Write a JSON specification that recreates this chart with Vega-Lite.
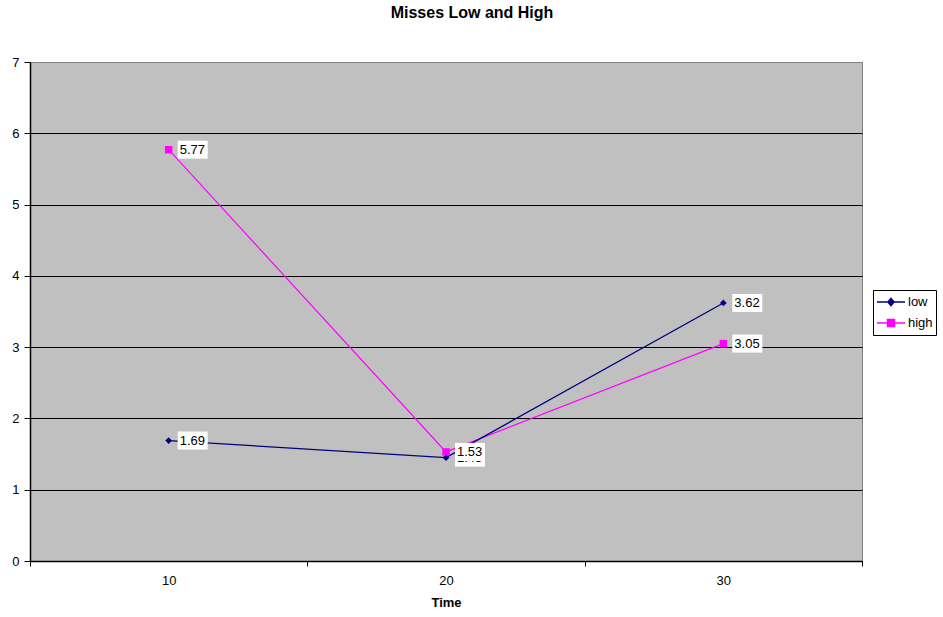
{
  "$schema": "https://vega.github.io/schema/vega-lite/v6.json",
  "width": 832,
  "height": 499,
  "autosize": {"type": "none"},
  "padding": {"left": 30, "top": 62, "right": 81, "bottom": 56},
  "background": "white",
  "title": {"text": "Misses Low and High", "font": "Liberation Sans", "fontSize": 16, "fontWeight": "bold", "anchor": "middle", "dx": 26, "offset": 35, "color": "black"},
  "config": {
    "view": {"fill": "#C0C0C0", "stroke": "#808080", "strokeWidth": 1},
    "axis": {"labelFont": "Liberation Sans", "labelFontSize": 13, "labelColor": "black", "domainColor": "black", "tickColor": "black", "titleFont": "Liberation Sans", "titleColor": "black"}
  },
  "data": {"values": [
    {"series": "low", "time": 10, "value": 1.69},
    {"series": "low", "time": 20, "value": 1.45},
    {"series": "low", "time": 30, "value": 3.62},
    {"series": "high", "time": 10, "value": 5.77},
    {"series": "high", "time": 20, "value": 1.53},
    {"series": "high", "time": 30, "value": 3.05}
  ]},
  "encoding": {
    "x": {"field": "time", "type": "quantitative", "scale": {"domain": [5, 35], "nice": false, "zero": false},
      "axis": {"title": "Time", "titleFontSize": 13, "titleFontWeight": "bold", "titlePadding": 9, "labelFontSize": 13, "values": [5, 10, 15, 20, 25, 30, 35], "labelExpr": "datum.value % 10 == 0 ? datum.label : ''", "tickSize": 5, "labelPadding": 8, "grid": false, "domainWidth": 1.5, "tickOpacity": {"condition": {"test": "datum.value % 10 == 0", "value": 0}, "value": 1}}},
    "y": {"field": "value", "type": "quantitative", "scale": {"domain": [0, 7], "nice": false},
      "axis": {"title": null, "labelFontSize": 13, "values": [0, 1, 2, 3, 4, 5, 6, 7], "tickSize": 6, "labelPadding": 5, "domainWidth": 1.5, "grid": true, "gridColor": {"condition": {"test": "datum.value == 7", "value": "#808080"}, "value": "black"}, "gridWidth": 1.2, "gridOpacity": 1}}
  },
  "layer": [
    {"transform": [{"filter": "datum.series == 'high'"}], "mark": {"type": "line", "color": "#FF00FF", "strokeWidth": 1.2}},
    {"transform": [{"filter": "datum.series == 'low'"}], "mark": {"type": "line", "color": "#000080", "strokeWidth": 1.3}},
    {"transform": [{"filter": "datum.series == 'low'"}], "mark": {"type": "point", "shape": "diamond", "filled": true, "color": "#000080", "size": 45, "opacity": 1}},
    {"transform": [{"filter": "datum.series == 'high'"}], "mark": {"type": "point", "shape": "square", "filled": true, "color": "#FF00FF", "size": 55, "opacity": 1}},
    {"transform": [{"filter": "datum.series == 'low'"}], "mark": {"type": "rect", "color": "white", "xOffset": 9, "x2Offset": 39, "yOffset": -9, "y2Offset": 9},
      "encoding": {"x2": {"field": "time"}, "y2": {"field": "value"}}},
    {"transform": [{"filter": "datum.series == 'low'"}], "mark": {"type": "text", "align": "left", "baseline": "middle", "dx": 11, "dy": 0, "font": "Liberation Sans", "fontSize": 13, "color": "black"},
      "encoding": {"text": {"field": "value", "type": "quantitative", "format": ".2f"}}},
    {"transform": [{"filter": "datum.series == 'high'"}], "mark": {"type": "rect", "color": "white", "xOffset": 9, "x2Offset": 39, "yOffset": -9, "y2Offset": 9},
      "encoding": {"x2": {"field": "time"}, "y2": {"field": "value"}}},
    {"transform": [{"filter": "datum.series == 'high'"}], "mark": {"type": "text", "align": "left", "baseline": "middle", "dx": 11, "dy": 0, "font": "Liberation Sans", "fontSize": 13, "color": "black"},
      "encoding": {"text": {"field": "value", "type": "quantitative", "format": ".2f"}}},
    {"mark": {"type": "point", "filled": true, "opacity": 0},
      "encoding": {
        "color": {"field": "series", "type": "nominal", "scale": {"domain": ["low", "high"], "range": ["#000080", "#FF00FF"]},
          "legend": {"title": null, "orient": "none", "legendX": 843, "legendY": 228, "fillColor": "white", "strokeColor": "black", "padding": 3, "symbolSize": 784, "clipHeight": 18, "rowPadding": 3, "labelFont": "Liberation Sans", "labelFontSize": 13, "labelColor": "black", "labelOffset": 2, "symbolOpacity": 1,
            "encode": {"symbols": {"update": {"fill": {"scale": "color", "field": "value"}, "stroke": {"scale": "color", "field": "value"}, "strokeWidth": {"value": 1.5}, "opacity": {"value": 1}}}}}},
        "shape": {"field": "series", "type": "nominal", "scale": {"domain": ["low", "high"], "range": ["M-1,0H1M0,-0.25L0.22,0L0,0.25L-0.22,0Z", "M-1,0H1M-0.25,-0.25H0.25V0.25H-0.25Z"]}}
      }}
  ]
}
